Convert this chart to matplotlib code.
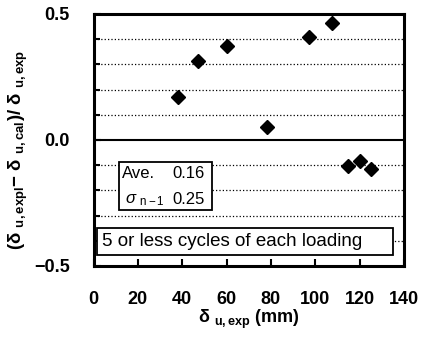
import numpy as np
import matplotlib
matplotlib.use("Agg")
import matplotlib.pyplot as plt
from matplotlib.patches import Rectangle

plt.rcParams["font.family"] = ["Liberation Sans", "DejaVu Sans"]
plt.rcParams["mathtext.fontset"] = "custom"
plt.rcParams["mathtext.rm"] = "Liberation Sans"
plt.rcParams["mathtext.it"] = "Liberation Sans:italic"
plt.rcParams["mathtext.bf"] = "Liberation Sans:bold"

# data
d_exp = [38.3, 47.0, 60.2, 78.4, 97.1, 107.5, 114.7, 120.0, 125.0]
ratio = [0.170, 0.313, 0.374, 0.053, 0.410, 0.466, -0.103, -0.083, -0.116]
grid_y = [-0.4, -0.3, -0.2, -0.1, 0.1, 0.2, 0.3, 0.4]
xticks = [0, 20, 40, 60, 80, 100, 120, 140]
yticks = [-0.5, 0.0, 0.5]

fig = plt.figure(figsize=(4.21, 3.41), dpi=100)
ax = fig.add_axes([93.5 / 421, 1 - 266 / 341, (404 - 93.5) / 421, (266 - 14) / 341])

for g in grid_y:
    ax.axhline(g, color="black", lw=0.9, ls=(0, (1, 1.7)))
ax.axhline(0, color="black", lw=1.5)
ax.plot(d_exp, ratio, ls="none", marker="D", ms=7.5, color="black", zorder=5)

ax.set_xlim(0, 140); ax.set_ylim(-0.5, 0.5)
ax.set_xticks(xticks); ax.set_yticks(yticks)
ax.set_xticklabels([str(v) for v in xticks], fontsize=13, fontweight="bold")
ax.set_yticklabels(["\u22120.5", "0.0", "0.5"], fontsize=13, fontweight="bold")
ax.set_yticks(grid_y, minor=True)
ax.tick_params(axis="x", direction="in", length=5, width=1.5, pad=18, top=False)
ax.tick_params(axis="y", which="both", direction="in", length=5, width=1.5, pad=17)
ax.tick_params(axis="y", which="minor", length=4)
for s in ax.spines.values():
    s.set_linewidth(2.2)

ax.set_xlabel("\u03b4 $_{\\mathbf{u,exp}}$ (mm)", fontsize=13, fontweight="bold", labelpad=0)
ax.set_ylabel("(\u03b4 $_{\\mathbf{u,expl}}$\u2212 \u03b4 $_{\\mathbf{u,cal}}$)/ \u03b4 $_{\\mathbf{u,exp}}$",
              fontsize=13.5, fontweight="bold")
ax.yaxis.set_label_coords(-0.205, 0.46)

# Ave / sigma box
ax.add_patch(Rectangle((11.4, -0.278), 42.2, 0.191, fc="white", ec="black", lw=1.3, zorder=6))
ax.text(12.8, -0.131, "Ave.", fontsize=12, va="center", ha="left", zorder=7)
ax.text(50, -0.131, "0.16", fontsize=12, va="center", ha="right", zorder=7)
ax.text(14, -0.238, "$\\sigma$ $_{\\mathregular{n-1}}$", fontsize=12, va="center", ha="left", zorder=7)
ax.text(50, -0.238, "0.25", fontsize=12, va="center", ha="right", zorder=7)

# loading note box
ax.add_patch(Rectangle((1.6, -0.456), 133.6, 0.107, fc="white", ec="black", lw=1.3, zorder=6))
ax.text(3.7, -0.403, "5 or less cycles of each loading", fontsize=13.5, va="center", ha="left", zorder=7)

fig.savefig("out.png", dpi=100)
